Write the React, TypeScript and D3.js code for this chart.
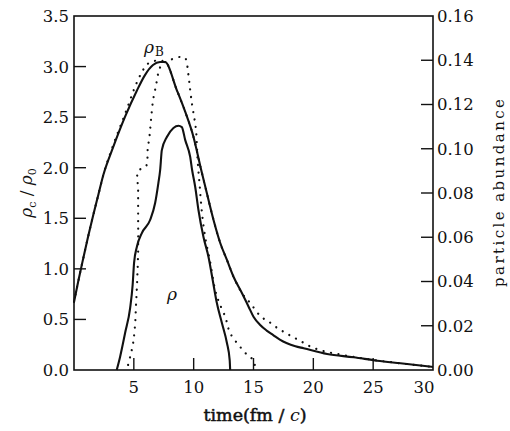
import React from "react";
import * as d3 from "d3";

const W = 510;
const H = 431;

// rho_B (solid), left axis
const rhoBTime = [0, 0.36, 0.78, 1.19, 1.61, 2.03, 2.45, 3.28, 4.26, 5.24, 5.93, 6.6, 7.19, 7.6, 8.59, 9.29, 9.98, 10.63, 11.1, 11.66, 12.22, 12.78, 13.33, 14.03, 14.59, 15.0, 15.56, 16.1, 16.65, 17.2, 17.8, 18.5, 19.19, 21.15, 23.37, 25.33, 27.28, 30];
const rhoBSolid = [0.672, 0.88, 1.108, 1.325, 1.533, 1.731, 1.928, 2.205, 2.502, 2.759, 2.916, 3.015, 3.045, 3.045, 2.768, 2.554, 2.307, 1.977, 1.75, 1.483, 1.256, 1.088, 0.922, 0.761, 0.626, 0.527, 0.445, 0.39, 0.345, 0.3, 0.264, 0.235, 0.215, 0.158, 0.126, 0.092, 0.066, 0.03];

// rho_B (dotted), left axis
const rhoBDotTime = [0, 0.36, 0.78, 1.19, 1.61, 2.03, 2.45, 3.28, 4.26, 5.24, 5.6, 6.2, 7.0, 7.6, 8.59, 9.29, 9.98, 10.63, 11.1, 11.66, 12.22, 12.78, 13.33, 14.03, 14.73, 15.56, 16.4, 16.96, 17.74, 18.35, 18.91, 19.61, 20.17, 20.73, 22.26, 24.18, 27.28, 30];
const rhoBDotted = [0.672, 0.88, 1.108, 1.325, 1.533, 1.731, 1.928, 2.225, 2.53, 2.84, 2.93, 3.03, 3.06, 3.05, 2.768, 2.554, 2.307, 1.977, 1.75, 1.483, 1.256, 1.088, 0.922, 0.761, 0.662, 0.535, 0.468, 0.418, 0.363, 0.323, 0.287, 0.24, 0.212, 0.191, 0.153, 0.114, 0.066, 0.03];

// rho (solid), right axis
const rhoTime = [3.57, 3.85, 4.27, 4.69, 4.9, 5.02, 5.25, 5.67, 6.36, 6.78, 7.05, 7.2, 7.34, 7.76, 8.31, 8.73, 9.01, 9.29, 9.71, 9.87, 10.13, 10.4, 10.82, 11.24, 11.59, 11.92, 12.36, 12.78, 13.01, 13.05];
const rhoSolid = [0, 0.0059, 0.0167, 0.028, 0.0384, 0.0484, 0.0556, 0.0619, 0.0678, 0.0755, 0.0845, 0.0904, 0.0994, 0.1053, 0.1094, 0.1104, 0.1098, 0.104, 0.0963, 0.0904, 0.0827, 0.0723, 0.0601, 0.0511, 0.0407, 0.0307, 0.0212, 0.0122, 0.0045, 0];

// rho (dotted), right axis
const rhoDotTime = [4.52, 4.69, 4.94, 5.1, 5.19, 5.27, 5.36, 5.36, 5.36, 5.36, 6.03, 6.15, 6.32, 6.44, 6.61, 6.86, 7.07, 7.36, 8.03, 8.87, 9.29, 9.54, 9.71, 9.87, 10.08, 10.21, 10.33, 10.5, 10.67, 10.96, 11.38, 11.76, 12.05, 12.64, 13.05, 13.89, 14.48, 14.98, 15.15];
const rhoDotted = [0.0023, 0.0059, 0.0122, 0.0203, 0.0303, 0.0393, 0.0542, 0.0692, 0.0814, 0.0899, 0.0922, 0.0994, 0.1062, 0.1134, 0.122, 0.1288, 0.1347, 0.1383, 0.1401, 0.1415, 0.141, 0.1342, 0.1265, 0.1198, 0.113, 0.1076, 0.0949, 0.0836, 0.0723, 0.0601, 0.0488, 0.0371, 0.0316, 0.024, 0.0167, 0.0104, 0.0068, 0.0045, 0.0009];

const xTicks = [5, 10, 15, 20, 25, 30];
const yLeftTicks = [0, 0.5, 1.0, 1.5, 2.0, 2.5, 3.0, 3.5];
const yRightTicks = [0, 0.02, 0.04, 0.06, 0.08, 0.1, 0.12, 0.14, 0.16];

const LEFT = 74;
const RIGHT = 433;
const TOP = 16;
const BOTTOM = 370;

export default function App() {
  const x = d3.scaleLinear().domain([0, 30]).range([LEFT, RIGHT]);
  const yL = d3.scaleLinear().domain([0, 3.5]).range([BOTTOM, TOP]);
  const yR = d3.scaleLinear().domain([0, 0.16]).range([BOTTOM, TOP]);

  const mk = (
    ts: number[],
    vs: number[],
    y: d3.ScaleLinear<number, number>,
    curve: d3.CurveFactory
  ) =>
    d3
      .line<number>()
      .x((_, i) => x(ts[i]))
      .y((v) => y(v))
      .curve(curve)(vs) || "";

  const tickFont = "'DejaVu Serif', serif";
  const tl = 12;

  return (
    <svg
      width={W}
      height={H}
      style={{ position: "absolute", left: 0, top: 0, background: "#fff" }}
    >
      <rect x={0} y={0} width={W} height={H} fill="#fff" />
      {/* frame */}
      <rect x={LEFT} y={TOP} width={RIGHT - LEFT} height={BOTTOM - TOP} fill="none" stroke="#111" strokeWidth={1.6} />

      {/* left ticks */}
      {yLeftTicks.map((t) => (
        <g key={"l" + t}>
          {t > 0 && t < 3.5 && (
            <line x1={LEFT} x2={LEFT + tl} y1={yL(t)} y2={yL(t)} stroke="#111" strokeWidth={1.4} />
          )}
          <text x={LEFT - 5} y={yL(t)} dy="0.36em" textAnchor="end" fontFamily={tickFont} fontSize={16.5} fill="#111">
            {t.toFixed(1)}
          </text>
        </g>
      ))}

      {/* right ticks */}
      {yRightTicks.map((t) => (
        <g key={"r" + t}>
          {t > 0 && t < 0.16 && (
            <line x1={RIGHT - tl} x2={RIGHT} y1={yR(t)} y2={yR(t)} stroke="#111" strokeWidth={1.4} />
          )}
          <text x={RIGHT + 4} y={yR(t)} dy="0.36em" textAnchor="start" fontFamily={tickFont} fontSize={16.5} fill="#111">
            {t.toFixed(2)}
          </text>
        </g>
      ))}

      {/* x ticks */}
      {xTicks.map((t) => (
        <g key={"x" + t}>
          {t < 30 && (
            <line x1={x(t)} x2={x(t)} y1={BOTTOM} y2={BOTTOM - tl} stroke="#111" strokeWidth={1.4} />
          )}
          <text
            x={t === 30 ? x(t) - 9 : x(t)}
            y={BOTTOM + 23}
            textAnchor="middle"
            fontFamily={tickFont}
            fontSize={16.5}
            fill="#111"
          >
            {t}
          </text>
        </g>
      ))}

      {/* curves */}
      <path d={mk(rhoBTime, rhoBSolid, yL, d3.curveMonotoneX)} fill="none" stroke="#111" strokeWidth={2.1} />
      <path d={mk(rhoTime, rhoSolid, yR, d3.curveMonotoneX)} fill="none" stroke="#111" strokeWidth={2.1} />
      <path d={mk(rhoBDotTime, rhoBDotted, yL, d3.curveMonotoneX)} fill="none" stroke="#111" strokeWidth={2.2} strokeDasharray="0.1 7.5" strokeLinecap="round" />
      <path d={mk(rhoDotTime, rhoDotted, yR, d3.curveCatmullRom.alpha(0.5))} fill="none" stroke="#111" strokeWidth={2.2} strokeDasharray="0.1 7.5" strokeLinecap="round" />

      {/* curve labels */}
      <text x={144} y={53} fontFamily={tickFont} fontStyle="italic" fontSize={17} fill="#111">
        ρ
      </text>
      <text x={155} y={56} fontFamily={tickFont} fontSize={12} fill="#111">
        B
      </text>
      <text x={172} y={300} textAnchor="middle" fontFamily={tickFont} fontStyle="italic" fontSize={17} fill="#111">
        ρ
      </text>

      {/* axis titles */}
      <text x={255} y={421} textAnchor="middle" fontFamily={tickFont} fontSize={17.5} fill="#111" stroke="#111" strokeWidth={0.5}>
        time(fm / <tspan fontStyle="italic" stroke="none">c</tspan>)
      </text>
      <text
        transform="translate(32,193) rotate(-90)"
        textAnchor="middle"
        fontFamily={tickFont}
        fontSize={17}
        fill="#111"
      >
        <tspan fontStyle="italic">ρ</tspan>
        <tspan fontSize={11} dy={4}>c</tspan>
        <tspan dy={-4}> / </tspan>
        <tspan fontStyle="italic">ρ</tspan>
        <tspan fontSize={11} dy={4}>0</tspan>
      </text>
      <text
        transform="translate(504,193) rotate(-90)"
        textAnchor="middle"
        fontFamily={tickFont}
        fontSize={15}
        fill="#111"
        textLength={188}
        lengthAdjust="spacing"
      >
        particle abundance
      </text>
    </svg>
  );
}
